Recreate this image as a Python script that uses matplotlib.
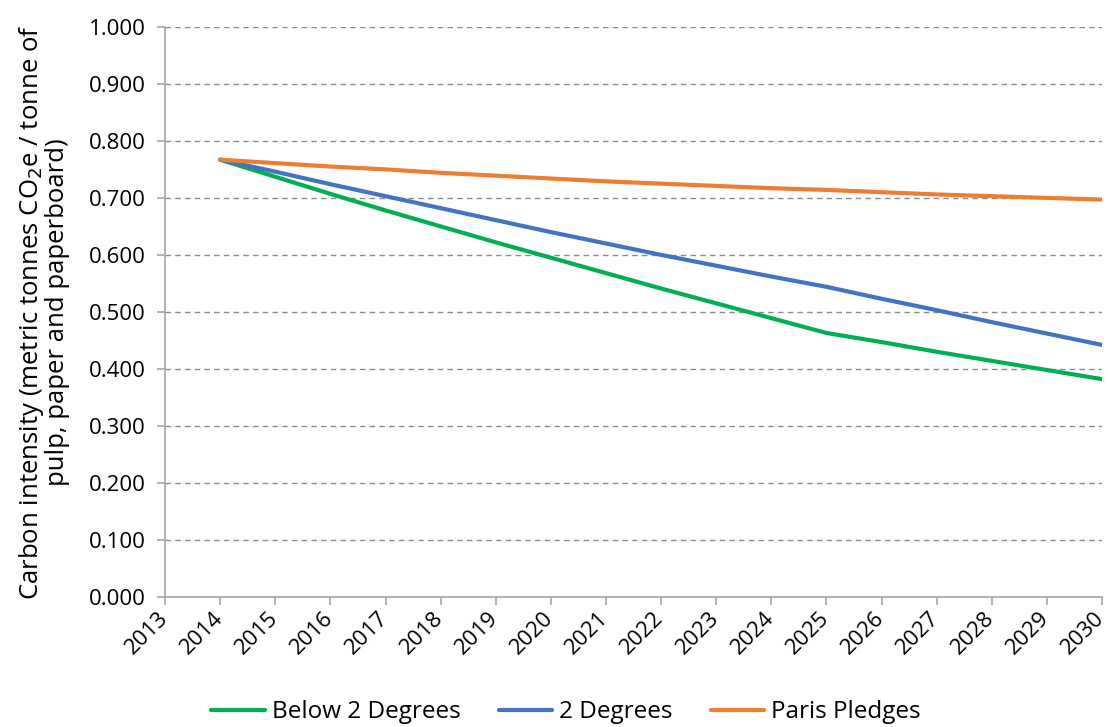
import numpy as np
import matplotlib
matplotlib.use("Agg")
import matplotlib.pyplot as plt
from matplotlib.transforms import ScaledTranslation

years = list(range(2013, 2031))
data_years = list(range(2014, 2031))

below_2 = [0.767, 0.737, 0.707, 0.678, 0.650, 0.622, 0.595, 0.568, 0.541, 0.515,
           0.489, 0.463, 0.447, 0.430, 0.414, 0.398, 0.382]
two_deg = [0.767, 0.746, 0.724, 0.703, 0.682, 0.661, 0.640, 0.620, 0.600, 0.581,
           0.562, 0.544, 0.523, 0.503, 0.482, 0.462, 0.442]
paris = [0.767, 0.761, 0.755, 0.750, 0.744, 0.739, 0.734, 0.729, 0.725, 0.721,
         0.717, 0.714, 0.710, 0.706, 0.703, 0.700, 0.697]

plt.rcParams['font.family'] = ['Open Sans', 'DejaVu Sans']

fig = plt.figure(figsize=(11.08, 7.27), dpi=100)
ax = fig.add_axes([0.149, 0.179, 0.8456, 0.784])

x = [years.index(y) for y in data_years]
ax.plot(x, below_2, color='#00b050', lw=3, label='Below 2 Degrees', solid_capstyle='round')
ax.plot(x, two_deg, color='#4472c4', lw=3, label='2 Degrees', solid_capstyle='round')
ax.plot(x, paris, color='#ed7d31', lw=3, label='Paris Pledges', solid_capstyle='round')

ax.set_xlim(0, len(years) - 1)
ax.set_ylim(0, 1.0)
ax.set_xticks(range(len(years)))
ax.set_xticklabels([str(y) for y in years], rotation=45, ha='right', rotation_mode='anchor')
ax.set_yticks(np.arange(0, 1.01, 0.1))
ax.set_yticklabels(['%.3f' % v for v in np.arange(0, 1.01, 0.1)])
ax.tick_params(axis='both', labelsize=16, color='#a6a6a6', length=6, width=1.2)
ax.tick_params(axis='y', pad=8)
ax.tick_params(axis='x', pad=2)
# nudge rotated year labels left so 2030 stays inside the figure
off = ScaledTranslation(-8 / 100, 0, fig.dpi_scale_trans)
for t in ax.xaxis.get_major_ticks():
    t.label1.set_transform(t.label1.get_transform() + off)

ax.yaxis.grid(True, linestyle=(0, (4, 3)), color='#8c8c8c', linewidth=1)
ax.set_axisbelow(True)
for s in ['top', 'right']:
    ax.spines[s].set_visible(False)
for s in ['left', 'bottom']:
    ax.spines[s].set_color('#a6a6a6')
    ax.spines[s].set_linewidth(1.2)

ax.set_ylabel('Carbon intensity (metric tonnes CO$_2$e / tonne of\npulp, paper and paperboard)',
              fontsize=18.5, linespacing=0.95)
ax.yaxis.set_label_coords(-0.101, 0.5)

fig.legend(loc='lower center', bbox_to_anchor=(0.511, -0.026), ncol=3, frameon=False,
           fontsize=17.5, handlelength=2.2, columnspacing=1.55, handletextpad=0.3)

fig.savefig('out.png', dpi=100)
